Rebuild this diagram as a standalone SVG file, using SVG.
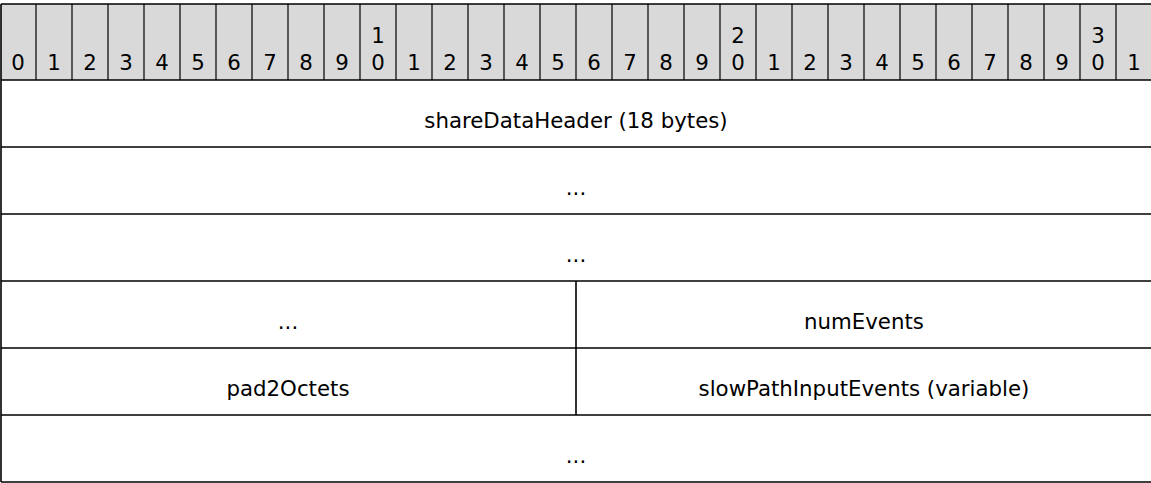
<svg xmlns="http://www.w3.org/2000/svg" width="1151" height="483" viewBox="0 0 1151 483">
<style>
text{font-family:"DejaVu Sans","Verdana","Liberation Sans",sans-serif;font-size:21.3px;fill:#000;text-anchor:middle}
.ln{stroke:#000;stroke-width:1.6;fill:none}
.cl{stroke:#000;stroke-width:1.2;fill:none}
</style>
<rect x="0" y="0" width="1151" height="483" fill="#fff"/>
<g id="header">
<rect x="1" y="4" width="1152" height="76" fill="#d9d9d9"/>
<g id="bitnums">
<text x="18" y="70">0</text><text x="54" y="70">1</text><text x="90" y="70">2</text><text x="126" y="70">3</text>
<text x="162" y="70">4</text><text x="198" y="70">5</text><text x="234" y="70">6</text><text x="270" y="70">7</text>
<text x="306" y="70">8</text><text x="342" y="70">9</text>
<text x="378" y="43">1</text><text x="378" y="70">0</text>
<text x="414" y="70">1</text><text x="450" y="70">2</text><text x="486" y="70">3</text><text x="522" y="70">4</text>
<text x="558" y="70">5</text><text x="594" y="70">6</text><text x="630" y="70">7</text><text x="666" y="70">8</text>
<text x="702" y="70">9</text>
<text x="738" y="43">2</text><text x="738" y="70">0</text>
<text x="774" y="70">1</text><text x="810" y="70">2</text><text x="846" y="70">3</text><text x="882" y="70">4</text>
<text x="918" y="70">5</text><text x="954" y="70">6</text><text x="990" y="70">7</text><text x="1026" y="70">8</text>
<text x="1062" y="70">9</text>
<text x="1098" y="43">3</text><text x="1098" y="70">0</text>
<text x="1134" y="70">1</text>
</g>
</g>
<g id="connectors">
<path class="cl" d="M36,4V80M72,4V80M108,4V80M144,4V80M180,4V80M216,4V80M252,4V80M288,4V80M324,4V80M360,4V80M396,4V80M432,4V80M468,4V80M504,4V80M540,4V80M576,4V80M612,4V80M648,4V80M684,4V80M720,4V80M756,4V80M792,4V80M828,4V80M864,4V80M900,4V80M936,4V80M972,4V80M1008,4V80M1044,4V80M1080,4V80M1116,4V80"/>
<path class="ln" d="M1,4H1151M1,80H1151M1,147H1151M1,214H1151M1,281H1151M1,348H1151M1,415H1151M1,482H1151"/>
<path class="ln" d="M1,4V482M576,281V415"/>
</g>
<g id="shareDataHeader"><text x="576" y="128">shareDataHeader (18 bytes)</text></g>
<g id="cont1"><text x="576" y="195">...</text></g>
<g id="cont2"><text x="576" y="262">...</text></g>
<g id="cont3"><text x="288" y="329">...</text></g>
<g id="numEvents"><text x="864" y="329">numEvents</text></g>
<g id="pad2Octets"><text x="288" y="396">pad2Octets</text></g>
<g id="slowPathInputEvents"><text x="864" y="396">slowPathInputEvents (variable)</text></g>
<g id="cont4"><text x="576" y="463">...</text></g>
</svg>
